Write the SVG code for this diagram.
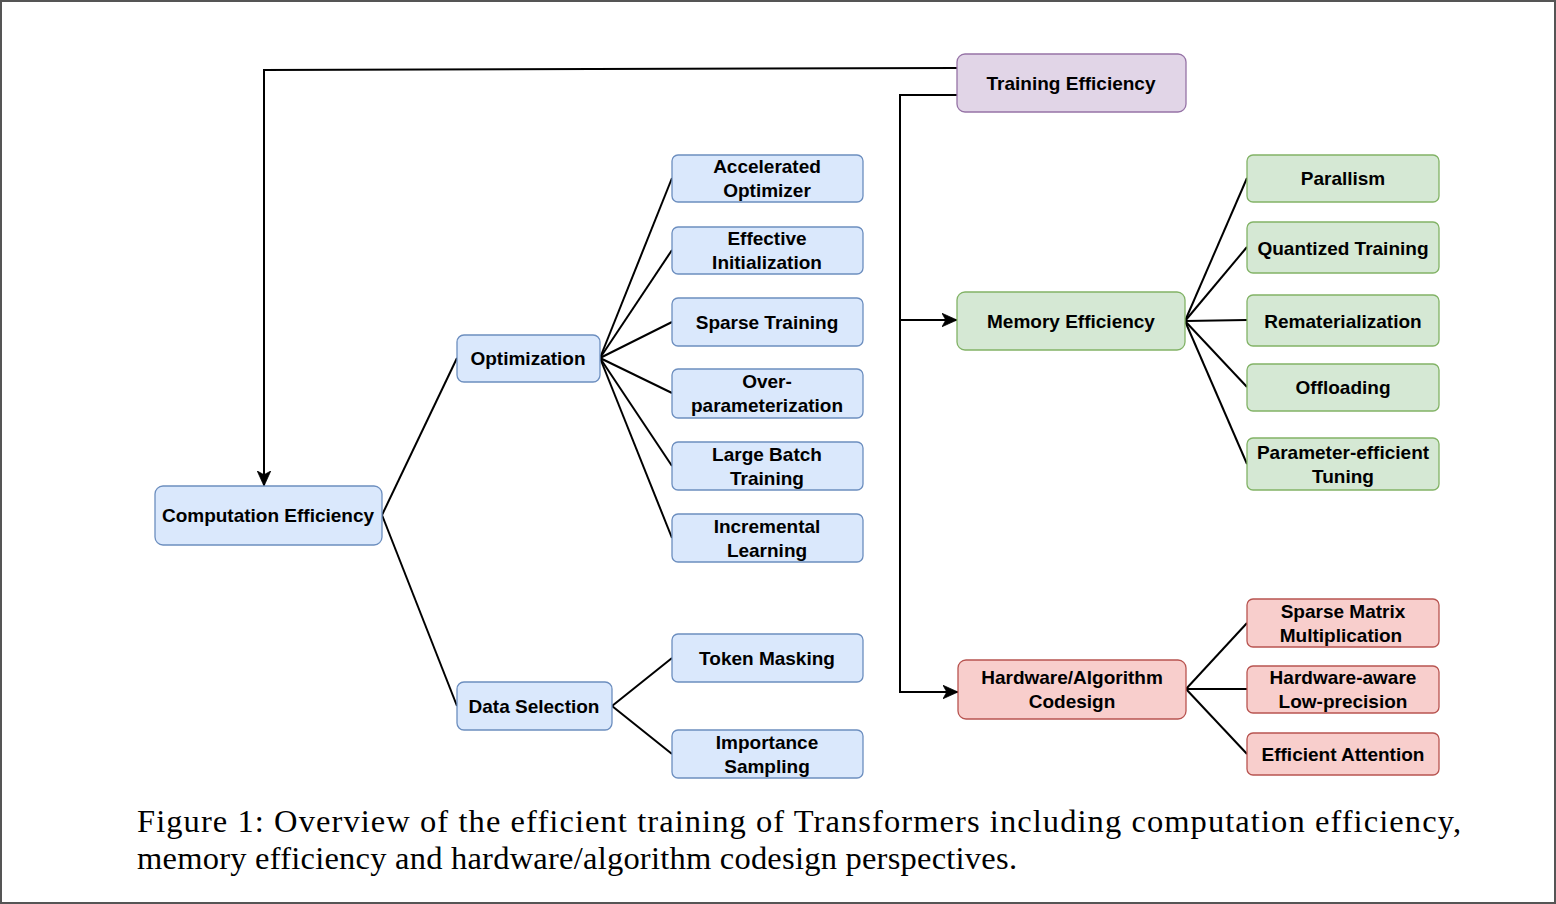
<svg xmlns="http://www.w3.org/2000/svg" width="1556" height="904" viewBox="0 0 1556 904">
<defs>
<marker id="arr" viewBox="0 0 10 10" refX="10" refY="5" markerWidth="15" markerHeight="15" markerUnits="userSpaceOnUse" orient="auto">
<path d="M0,0.5 L10,5 L0,9.5 L2.5,5 Z" fill="#000" stroke="#000" stroke-width="0.5"/>
</marker>
<style>
.b rect{fill:#dae8fc;stroke:#6c8ebf;stroke-width:1.3}
.p rect{fill:#e1d5e7;stroke:#9673a6;stroke-width:1.3}
.g rect{fill:#d5e8d4;stroke:#82b366;stroke-width:1.3}
.r rect{fill:#f8cecc;stroke:#b85450;stroke-width:1.3}
text.t{font-family:"Liberation Sans",Arial,sans-serif;font-weight:bold;font-size:19px;fill:#000;text-anchor:middle;dominant-baseline:central}
.c line,.c polyline{stroke:#000;stroke-width:2;fill:none}
.cap{font-family:"Liberation Serif","Times New Roman",serif;font-size:32.5px;fill:#000}
</style>
</defs>
<rect x="1" y="1" width="1554" height="902" fill="#fff" stroke="#555" stroke-width="2"/>

<g class="c" id="connectors">
<polyline points="957,68 264,70 264,486" marker-end="url(#arr)"/>
<polyline points="957,95 900,95 900,692 958,692" marker-end="url(#arr)"/>
<line x1="900" y1="320" x2="957" y2="320" marker-end="url(#arr)"/>
<line x1="382" y1="515" x2="457" y2="358"/>
<line x1="382" y1="515" x2="457" y2="706"/>
<line x1="600" y1="358" x2="672" y2="178"/>
<line x1="600" y1="358" x2="672" y2="250"/>
<line x1="600" y1="358" x2="672" y2="322"/>
<line x1="600" y1="358" x2="672" y2="393"/>
<line x1="600" y1="358" x2="672" y2="466"/>
<line x1="600" y1="358" x2="672" y2="538"/>
<line x1="612" y1="706" x2="672" y2="658"/>
<line x1="612" y1="706" x2="672" y2="754"/>
<line x1="1185" y1="321" x2="1247" y2="178"/>
<line x1="1185" y1="321" x2="1247" y2="247"/>
<line x1="1185" y1="321" x2="1247" y2="320"/>
<line x1="1185" y1="321" x2="1247" y2="387"/>
<line x1="1185" y1="321" x2="1247" y2="464"/>
<line x1="1186" y1="689" x2="1247" y2="623"/>
<line x1="1186" y1="689" x2="1247" y2="689"/>
<line x1="1186" y1="689" x2="1247" y2="754"/>
</g>

<g id="training-efficiency" class="p"><rect x="957" y="54" width="229" height="58" rx="8"/><text class="t" x="1071" y="83">Training Efficiency</text></g>
<g id="computation-efficiency" class="b"><rect x="155" y="486" width="227" height="59" rx="8"/><text class="t" x="268" y="515">Computation Efficiency</text></g>
<g id="optimization" class="b"><rect x="457" y="335" width="143" height="47" rx="7"/><text class="t" x="528" y="358">Optimization</text></g>
<g id="data-selection" class="b"><rect x="457" y="682" width="155" height="48" rx="7"/><text class="t" x="534" y="706">Data Selection</text></g>

<g id="accelerated-optimizer" class="b"><rect x="672" y="155" width="191" height="47" rx="6"/><text class="t" x="767" y="166">Accelerated</text><text class="t" x="767" y="190">Optimizer</text></g>
<g id="effective-initialization" class="b"><rect x="672" y="227" width="191" height="47" rx="6"/><text class="t" x="767" y="238">Effective</text><text class="t" x="767" y="262">Initialization</text></g>
<g id="sparse-training" class="b"><rect x="672" y="298" width="191" height="48" rx="6"/><text class="t" x="767" y="322">Sparse Training</text></g>
<g id="over-parameterization" class="b"><rect x="672" y="369" width="191" height="49" rx="6"/><text class="t" x="767" y="381">Over-</text><text class="t" x="767" y="405">parameterization</text></g>
<g id="large-batch-training" class="b"><rect x="672" y="442" width="191" height="48" rx="6"/><text class="t" x="767" y="454">Large Batch</text><text class="t" x="767" y="478">Training</text></g>
<g id="incremental-learning" class="b"><rect x="672" y="514" width="191" height="48" rx="6"/><text class="t" x="767" y="526">Incremental</text><text class="t" x="767" y="550">Learning</text></g>
<g id="token-masking" class="b"><rect x="672" y="634" width="191" height="48" rx="6"/><text class="t" x="767" y="658">Token Masking</text></g>
<g id="importance-sampling" class="b"><rect x="672" y="730" width="191" height="48" rx="6"/><text class="t" x="767" y="742">Importance</text><text class="t" x="767" y="766">Sampling</text></g>

<g id="memory-efficiency" class="g"><rect x="957" y="292" width="228" height="58" rx="8"/><text class="t" x="1071" y="321">Memory Efficiency</text></g>
<g id="parallism" class="g"><rect x="1247" y="155" width="192" height="47" rx="6"/><text class="t" x="1343" y="178">Parallism</text></g>
<g id="quantized-training" class="g"><rect x="1247" y="222" width="192" height="51" rx="6"/><text class="t" x="1343" y="248">Quantized Training</text></g>
<g id="rematerialization" class="g"><rect x="1247" y="295" width="192" height="51" rx="6"/><text class="t" x="1343" y="321">Rematerialization</text></g>
<g id="offloading" class="g"><rect x="1247" y="364" width="192" height="47" rx="6"/><text class="t" x="1343" y="387">Offloading</text></g>
<g id="parameter-efficient-tuning" class="g"><rect x="1247" y="438" width="192" height="52" rx="6"/><text class="t" x="1343" y="452">Parameter-efficient</text><text class="t" x="1343" y="476">Tuning</text></g>

<g id="hardware-algorithm-codesign" class="r"><rect x="958" y="660" width="228" height="59" rx="8"/><text class="t" x="1072" y="677">Hardware/Algorithm</text><text class="t" x="1072" y="701">Codesign</text></g>
<g id="sparse-matrix-multiplication" class="r"><rect x="1247" y="599" width="192" height="48" rx="6"/><text class="t" x="1343" y="611">Sparse Matrix</text><text class="t" x="1341" y="635">Multiplication</text></g>
<g id="hardware-aware-low-precision" class="r"><rect x="1247" y="666" width="192" height="47" rx="6"/><text class="t" x="1343" y="677">Hardware-aware</text><text class="t" x="1343" y="701">Low-precision</text></g>
<g id="efficient-attention" class="r"><rect x="1247" y="733" width="192" height="42" rx="6"/><text class="t" x="1343" y="754">Efficient Attention</text></g>

<text class="cap" x="137" y="832" textLength="1324" lengthAdjust="spacing">Figure 1:  Overview of the efficient training of Transformers including computation efficiency,</text>
<text class="cap" x="137" y="869" textLength="880" lengthAdjust="spacing">memory efficiency and hardware/algorithm codesign perspectives.</text>
</svg>
